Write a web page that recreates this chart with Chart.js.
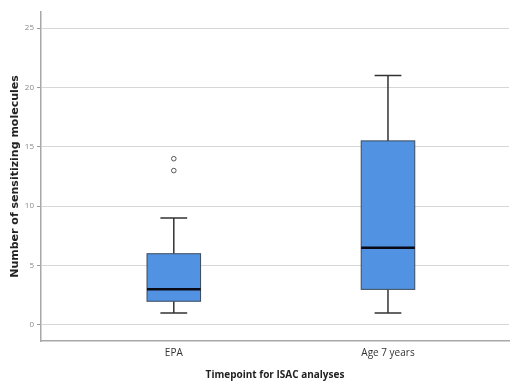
<!DOCTYPE html>
<html>
<head>
<meta charset="utf-8">
<script src="https://cdn.jsdelivr.net/npm/chart.js@4.4.1/dist/chart.umd.min.js"></script>
<style>
    html, body { margin: 0; padding: 0; background: #fff; }
    #wrap { width: 514px; height: 384px; }
</style>
</head>
<body>
<div id="wrap"><canvas id="chart" width="514" height="384"></canvas></div>
<script>
// box plot summary
const categories = ['EPA', 'Age 7 years'];
const positions = [1, 2];
const whiskerLow = [1, 1];
const q1 = [2, 3];
const median = [3, 6.5];
const q3 = [6, 15.5];
const whiskerHigh = [9, 21];
const outliers = [[13, 14], []];
const yTicks = [0, 5, 10, 15, 20, 25];

const BOX_HALF = 0.125;   // in x units
const CAP_HALF = 0.0625;

const outlierPoints = [];
outliers.forEach((vals, i) => {
    vals.forEach(v => outlierPoints.push({ x: positions[i], y: v }));
});

// draws whiskers, boxes and medians through the chart scales
const boxPlotPlugin = {
    id: 'boxPlot',
    beforeDatasetsDraw(chart) {
        const ctx = chart.ctx;
        const xs = chart.scales.x;
        const ys = chart.scales.y;
        ctx.save();
        positions.forEach((p, i) => {
            const cx = xs.getPixelForValue(p);
            const bl = xs.getPixelForValue(p - BOX_HALF);
            const br = xs.getPixelForValue(p + BOX_HALF);
            const cl = xs.getPixelForValue(p - CAP_HALF);
            const cr = xs.getPixelForValue(p + CAP_HALF);
            const yLo = ys.getPixelForValue(whiskerLow[i]);
            const yQ1 = ys.getPixelForValue(q1[i]);
            const yMed = ys.getPixelForValue(median[i]);
            const yQ3 = ys.getPixelForValue(q3[i]);
            const yHi = ys.getPixelForValue(whiskerHigh[i]);

            // whiskers
            ctx.strokeStyle = '#333';
            ctx.lineWidth = 1.5;
            ctx.beginPath();
            ctx.moveTo(cx, yQ1); ctx.lineTo(cx, yLo);
            ctx.moveTo(cl, yLo); ctx.lineTo(cr, yLo);
            ctx.moveTo(cx, yQ3); ctx.lineTo(cx, yHi);
            ctx.moveTo(cl, yHi); ctx.lineTo(cr, yHi);
            ctx.stroke();

            // box
            ctx.fillStyle = '#5292e2';
            ctx.fillRect(bl, yQ3, br - bl, yQ1 - yQ3);
            ctx.strokeStyle = '#3a4a5c';
            ctx.lineWidth = 1;
            ctx.strokeRect(bl, yQ3, br - bl, yQ1 - yQ3);

            // median
            ctx.strokeStyle = '#0a0a14';
            ctx.lineWidth = 2.5;
            ctx.beginPath();
            ctx.moveTo(bl, yMed); ctx.lineTo(br, yMed);
            ctx.stroke();
        });
        ctx.restore();
    }
};

new Chart(document.getElementById('chart'), {
    type: 'scatter',
    data: {
        datasets: [{
            label: 'Outliers',
            data: outlierPoints,
            pointStyle: 'circle',
            pointRadius: 2.3,
            pointBackgroundColor: '#fff',
            pointBorderColor: '#555',
            pointBorderWidth: 1
        }]
    },
    options: {
        responsive: false,
        animation: false,
        layout: { padding: { top: 12, right: 0, left: 0, bottom: 0 } },
        plugins: {
            legend: { display: false },
            tooltip: { enabled: false }
        },
        scales: {
            x: {
                type: 'linear',
                min: 0.38,
                max: 2.565,
                afterBuildTicks: (s) => { s.ticks = positions.map(v => ({ value: v })); },
                afterFit: (s) => { s.height = 43; },
                grid: { display: false, drawTicks: false },
                border: { display: true, color: '#a8a8a8', width: 1.5 },
                ticks: {
                    padding: 6,
                    color: '#333',
                    font: { family: 'Open Sans', size: 10 },
                    callback: (v) => categories[positions.indexOf(v)] || ''
                },
                title: {
                    display: true,
                    text: 'Timepoint for ISAC analyses',
                    color: '#222',
                    font: { family: 'Open Sans', size: 10, weight: 'bold' },
                    padding: { top: 0, bottom: 3 }
                }
            },
            y: {
                min: -1.347,
                max: 26.35,
                afterBuildTicks: (s) => { s.ticks = yTicks.map(v => ({ value: v })); },
                afterFit: (s) => { s.width = 41; },
                grid: { color: '#d6d6d6', lineWidth: 1, tickLength: 4, tickColor: '#999' },
                border: { display: true, color: '#a8a8a8', width: 1.5 },
                ticks: {
                    padding: 3,
                    color: '#888',
                    font: { family: 'Open Sans', size: 8 }
                },
                title: {
                    display: true,
                    text: 'Number of sensitizing molecules',
                    color: '#222',
                    font: { family: 'DejaVu Sans', size: 11, weight: 'bold' },
                    padding: { top: 9, bottom: 0 }
                }
            }
        }
    },
    plugins: [boxPlotPlugin]
});
</script>
</body>
</html>
